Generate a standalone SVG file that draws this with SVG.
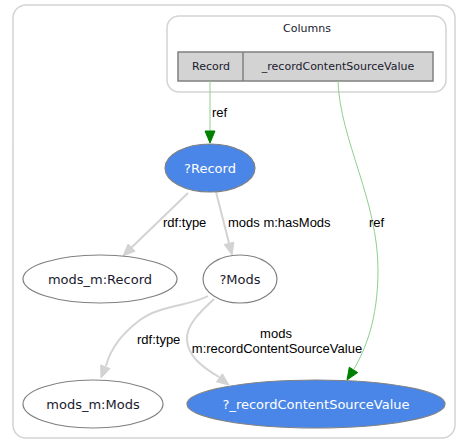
<svg xmlns="http://www.w3.org/2000/svg" width="465" height="446" viewBox="0 0 465 446">
<style>
.cl{fill:#fff;stroke:#d3d3d3;stroke-width:1.5}
.nd{fill:#fff;stroke:#808080;stroke-width:1.2}
.bl{fill:#4a86e8;stroke:#808080;stroke-width:1.2}
.nt{font-family:"DejaVu Sans",Verdana,sans-serif;font-size:13px;fill:#1a1a2e;text-anchor:middle}
.wt{font-family:"DejaVu Sans",Verdana,sans-serif;font-size:13px;fill:#fff;text-anchor:middle}
.ct{font-family:"DejaVu Sans",Verdana,sans-serif;font-size:11px;fill:#1a1a2e;text-anchor:middle}
.el{font-family:"Liberation Sans",Arial,sans-serif;font-size:13px;fill:#000}
.ge{fill:none;stroke:#d3d3d3;stroke-width:2}
.gh{fill:#d3d3d3;stroke:#d3d3d3}
.re{fill:none;stroke:#8fd08f;stroke-width:1}
.rh{fill:#008000;stroke:#008000}
</style>
<rect class="cl" x="13" y="5" width="442" height="433" rx="13"/>
<g id="Columns">
<rect class="cl" x="167" y="16" width="279" height="76" rx="12"/>
<text class="ct" x="307" y="32">Columns</text>
<rect x="178" y="52" width="255" height="29" fill="#d3d3d3" stroke="#808080" stroke-width="1.5"/>
<line x1="243" y1="52" x2="243" y2="81" stroke="#808080" stroke-width="1.5"/>
<text class="ct" x="211" y="70">Record</text>
<text class="ct" x="338" y="70">_recordContentSourceValue</text>
</g>
<g id="connectors">
<line class="re" x1="210" y1="81" x2="210" y2="131"/>
<polygon class="rh" points="205,131 215,131 210,143"/>
<text class="el" x="212" y="117">ref</text>
<line class="ge" x1="188" y1="193" x2="131" y2="248"/>
<polygon class="gh" points="135.1,251.2 128.1,244 123,256"/>
<text class="el" x="163" y="227">rdf:type</text>
<line class="ge" x1="216" y1="192" x2="229" y2="243"/>
<polygon class="gh" points="233.9,242.2 224.2,244.6 232,255"/>
<text class="el" x="228" y="227">mods m:hasMods</text>
<path class="ge" d="M208,296 C190,306 160,305 140,320 C120,335 110,350 106,366"/>
<polygon class="gh" points="110,368.6 100.7,365 101,378"/>
<text class="el" x="137" y="344">rdf:type</text>
<path class="ge" d="M214,299 C200,312 186,325 187,340 C188,356 202,367 219,377"/>
<polygon class="gh" points="222.4,373.8 216.4,381.8 229,385"/>
<text class="el" x="276" y="338" text-anchor="middle">mods</text>
<text class="el" x="277" y="353" text-anchor="middle">m:recordContentSourceValue</text>
<path class="re" d="M338,81 C340,140 378,200 378,270 C378,320 365,350 354,369"/>
<polygon class="rh" points="357.7,372.6 349.3,367.2 347,380"/>
<text class="el" x="369" y="227">ref</text>
</g>
<g id="Record">
<ellipse class="bl" cx="210" cy="168" rx="45" ry="24"/>
<text class="wt" x="210" y="172.5">?Record</text>
</g>
<g id="mods_m_Record">
<ellipse class="nd" cx="100" cy="279" rx="77" ry="24"/>
<text class="nt" x="100" y="283.5">mods_m:Record</text>
</g>
<g id="Mods">
<ellipse class="nd" cx="240" cy="279" rx="37" ry="24"/>
<text class="nt" x="240" y="283.5">?Mods</text>
</g>
<g id="mods_m_Mods">
<ellipse class="nd" cx="93" cy="404" rx="70" ry="24"/>
<text class="nt" x="93" y="408.5">mods_m:Mods</text>
</g>
<g id="recordContentSourceValue">
<ellipse class="bl" cx="316" cy="404" rx="129" ry="24"/>
<text class="wt" x="316" y="408.5">?_recordContentSourceValue</text>
</g>
</svg>
